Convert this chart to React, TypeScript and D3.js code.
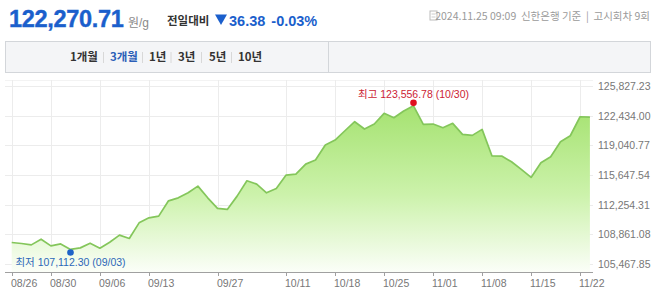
import React from "react";
import * as d3 from "d3";

const dates: string[] = [
  "08/26","08/27","08/28","08/29","08/30",
  "09/02","09/03","09/04","09/05","09/06",
  "09/09","09/10","09/11","09/12","09/13",
  "09/19","09/20","09/23","09/24","09/25","09/26","09/27",
  "09/30","10/02","10/04","10/07","10/08","10/10","10/11",
  "10/14","10/15","10/16","10/17","10/18",
  "10/21","10/22","10/23","10/24","10/25",
  "10/28","10/29","10/30","10/31","11/01",
  "11/04","11/05","11/06","11/07","11/08",
  "11/11","11/12","11/13","11/14","11/15",
  "11/18","11/19","11/20","11/21","11/22",
  "11/25",
];

const prices: number[] = [
  107909, 107794, 107634, 108287, 107519,
  107748, 107112.3, 107290, 107829, 107250,
  107943, 108746, 108367, 110156, 110729,
  110924, 112678, 113022, 113595, 114363, 113022, 111807,
  111692, 113217, 114971, 114592, 113595, 114099, 115624,
  115739, 116885, 117344, 119063, 119636,
  120703, 121734, 120897, 121471, 122697,
  122193, 122961, 123556.78, 121436, 121471,
  121046, 121551, 120290, 120175, 120863,
  117837, 117800, 117149, 116277, 115360,
  117034, 117722, 119442, 120129, 122307.09,
  122270.71,
];

const xTickDates: string[] = ["08/26","08/30","09/06","09/13","09/27","10/11","10/18","10/25","11/01","11/08","11/15","11/22"];
const yTicks: number[] = [105467.85, 108861.08, 112254.31, 115647.54, 119040.77, 122434.0, 125827.23];
const tabLabels: string[] = ["1개월", "3개월", "1년", "3년", "5년", "10년"];
const activeTab = "3개월";

const currentPrice = "122,270.71";
const unitLabel = "원/g";
const changeLabel = "전일대비";
const changeValue = "36.38";
const changePct = "-0.03%";
const metaText = "2024.11.25 09:09  신한은행 기준  |  고시회차 9회";

const W = 658;
const H = 296;

const fmt = (v: number) =>
  v.toLocaleString("en-US", { minimumFractionDigits: 2, maximumFractionDigits: 2 });

export default function App() {
  const x = d3.scaleLinear().domain([0, prices.length - 1]).range([11.7, 589.9]);
  const y = d3.scaleLinear().domain([yTicks[0], yTicks[yTicks.length - 1]]).range([263.8, 86]);
  const axisY = 272;
  const plotTop = 80;
  const plotLeft = 5;
  const plotRight = 593;

  const line = d3.line<number>().x((_, i) => x(i)).y((d) => y(d));
  const area = d3.area<number>().x((_, i) => x(i)).y0(axisY).y1((d) => y(d));

  const minI = prices.indexOf(d3.min(prices)!);
  const maxI = prices.indexOf(d3.max(prices)!);

  const font = "'Liberation Sans', Arial, 'Noto Sans CJK KR', sans-serif";
  const kr = "'Noto Sans CJK KR', sans-serif";
  const tabX = [70, 110, 149, 178, 209, 238];
  const sepX = [103.5, 142.5, 171, 201.5, 231.5];

  return (
    <div style={{ position: "fixed", left: 0, top: 0, width: W, height: H, background: "#fff" }}>
      <svg width={W} height={H} style={{ display: "block", fontFamily: font }}>
        <defs>
          <linearGradient id="areaG" gradientUnits="userSpaceOnUse" x1="0" x2="0" y1={100} y2={axisY}>
            <stop offset="0%" stopColor="#a2e16c" />
            <stop offset="55%" stopColor="#ccf2ab" />
            <stop offset="100%" stopColor="#fbfef8" />
          </linearGradient>
        </defs>

        {/* header */}
        <text x={9} y={27} fontSize={23.5} fontWeight="bold" fill="#1b5fcc" letterSpacing={-0.3}
          stroke="#1b5fcc" strokeWidth={0.4}>{currentPrice}</text>
        <text x={128} y={27} fontSize={12} fill="#8a8a8a">{unitLabel}</text>
        <text x={167} y={25} fontSize={11.5} fontWeight="bold" fill="#333" fontFamily={kr}>{changeLabel}</text>
        <path d="M215,14.5 L227,14.5 L221,25 Z" fill="#1b5fcc" />
        <text x={229} y={26} fontSize={14.5} fill="#1b5fcc" fontWeight="bold">
          <tspan>{changeValue}</tspan>
          <tspan dx={6}>{changePct}</tspan>
        </text>
        <rect x={430} y={11} width={7} height={9} fill="none" stroke="#bbb" strokeWidth={1} />
        <line x1={431.5} y1={14} x2={435.5} y2={14} stroke="#ccc" />
        <line x1={431.5} y1={17} x2={435.5} y2={17} stroke="#ccc" />
        <text x={650} y={20} fontSize={10.5} fill="#9a9a9a" textAnchor="end" fontFamily={kr} style={{ whiteSpace: "pre" }}>{metaText}</text>

        {/* tab bar */}
        <rect x={5.5} y={41.5} width={645} height={31} fill="#f4f5f7" stroke="#d3d6da" />
        <line x1={328.5} y1={42} x2={328.5} y2={72} stroke="#d3d6da" />
        {tabLabels.map((t, i) => (
          <text key={t} x={tabX[i]} y={61} fontSize={11.5} fontWeight="bold"
            fill={t === activeTab ? "#2b5fb8" : "#333"} fontFamily={kr}>{t}</text>
        ))}
        {sepX.map((sx, i) => (
          <line key={i} x1={sx} x2={sx} y1={52} y2={63} stroke="#d8d8d8" />
        ))}

        {/* grid */}
        <line x1={plotLeft} x2={plotRight} y1={plotTop + 0.5} y2={plotTop + 0.5} stroke="#f3f3f3" />
        {yTicks.map((v) => (
          <line key={v} x1={plotLeft} x2={plotRight} y1={Math.round(y(v)) + 0.5} y2={Math.round(y(v)) + 0.5} stroke="#ececec" />
        ))}
        {xTickDates.map((d) => {
          const xi = Math.round(x(dates.indexOf(d))) + 0.5;
          return <line key={d} x1={xi} x2={xi} y1={plotTop} y2={axisY} stroke="#ececec" />;
        })}

        {/* area + line */}
        <path d={area(prices) || ""} fill="url(#areaG)" />
        <path d={line(prices) || ""} fill="none" stroke="#84c65b" strokeWidth={1.7} strokeLinejoin="round" />

        {/* axis */}
        <line x1={plotLeft} x2={plotRight} y1={axisY + 0.5} y2={axisY + 0.5} stroke="#a0a0a0" />
        {xTickDates.map((d) => {
          const xi = Math.round(x(dates.indexOf(d))) + 0.5;
          return (
            <g key={d}>
              <line x1={xi} x2={xi} y1={axisY} y2={axisY + 4} stroke="#a0a0a0" />
              <text x={xi - 1.5} y={287} fontSize={10.5} fill="#777">{d}</text>
            </g>
          );
        })}
        {yTicks.map((v) => (
          <text key={v} x={598} y={y(v) + 4} fontSize={10.5} fill="#777">{fmt(v)}</text>
        ))}

        {/* min / max markers */}
        <circle cx={x(maxI)} cy={y(prices[maxI]) - 3} r={3.3} fill="#e0101e" />
        <text x={x(maxI)} y={98} textAnchor="middle" fontSize={10.5} fill="#cc2233">
          <tspan fontFamily={kr}>최고</tspan> {fmt(prices[maxI])} ({dates[maxI]})
        </text>
        <circle cx={x(minI)} cy={y(prices[minI]) + 3} r={3.3} fill="#1e63c8" />
        <text x={x(minI)} y={266} textAnchor="middle" fontSize={10.5} fill="#2c68b8">
          <tspan fontFamily={kr}>최저</tspan> {fmt(prices[minI])} ({dates[minI]})
        </text>
      </svg>
    </div>
  );
}
